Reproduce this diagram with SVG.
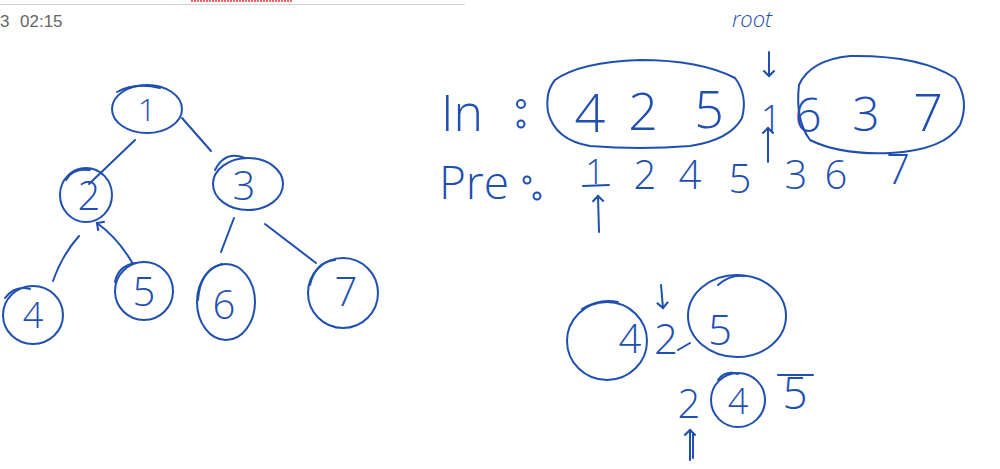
<svg xmlns="http://www.w3.org/2000/svg" width="1000" height="469" viewBox="0 0 1000 469">
<style>
.ink{fill:none;stroke:#1f4fb0;stroke-width:2;stroke-linecap:round;stroke-linejoin:round}
.d{font-family:"Open Sans","Liberation Sans","DejaVu Sans",sans-serif;font-weight:300;fill:#1f4fb0;text-anchor:middle}
.hdr{font-family:"Liberation Sans",Arial,sans-serif;fill:#666;font-size:17px}
</style>
<defs>
<marker id="ah" viewBox="0 0 10 10" refX="5" refY="5" markerWidth="7" markerHeight="7" orient="auto-start-reverse">
<path d="M1,1 L5,5 L1,9" fill="none" stroke="#1f4fb0" stroke-width="1.5"/>
</marker>
</defs>
<rect width="1000" height="469" fill="#fff"/>
<g id="header">
<line x1="0" y1="4.5" x2="465" y2="4.5" stroke="#d0d0d0" stroke-width="1"/>
<line x1="191" y1="1" x2="292" y2="1" stroke="#e33" stroke-width="1.5" stroke-dasharray="2 1"/>
<text x="0" y="27" class="hdr" font-size="12">3</text>
<text x="20" y="27" class="hdr">02:15</text>
</g>
<g id="connectors">
<path class="ink" d="M135,140 L89,184"/>
<path class="ink" d="M182,118 L211,151"/>
<path class="ink" d="M79,236 Q62,255 53,281"/>
<path class="ink" d="M133,264 Q118,238 97,223" marker-end="url(#ah)"/>
<path class="ink" d="M234,218 L221,252"/>
<path class="ink" d="M265,224 L316,263"/>
</g>
<g id="n1"><ellipse class="ink" cx="147" cy="109" rx="35" ry="24"/><path class="ink" d="M117,92 Q135,82 160,88"/><text class="d" x="147" y="121" font-size="32">1</text></g>
<g id="n2"><ellipse class="ink" cx="86" cy="195" rx="26" ry="27"/><path class="ink" d="M66,180 Q72,168 90,170"/><text class="d" x="89" y="210" font-size="40">2</text></g>
<g id="n3"><ellipse class="ink" cx="248" cy="184" rx="35" ry="26"/><path class="ink" d="M215,170 Q225,150 245,158"/><text class="d" x="244" y="200" font-size="40">3</text></g>
<g id="n4"><ellipse class="ink" cx="33" cy="315" rx="30" ry="29"/><path class="ink" d="M5,298 Q15,285 30,289"/><text class="d" x="33" y="328" font-size="36">4</text></g>
<g id="n5"><ellipse class="ink" cx="144" cy="291" rx="29" ry="29"/><path class="ink" d="M115,282 Q118,266 135,263"/><text class="d" x="144" y="306" font-size="40">5</text></g>
<g id="n6"><ellipse class="ink" cx="226" cy="302" rx="29" ry="38"/><path class="ink" d="M198,300 Q200,270 222,264"/><text class="d" x="224" y="319" font-size="40">6</text></g>
<g id="n7"><ellipse class="ink" cx="343" cy="293" rx="35" ry="35"/><path class="ink" d="M310,285 Q315,262 335,260"/><text class="d" x="346" y="306" font-size="40">7</text></g>
<g id="inorder">
<text class="d" x="462" y="131" font-size="50">In</text>
<circle class="ink" cx="521" cy="104" r="4"/><circle class="ink" cx="521" cy="124" r="3.5"/>
<path class="ink" d="M555,80 Q580,62 640,60 Q700,60 735,78 Q748,95 742,118 Q730,140 690,146 Q640,150 590,146 Q555,140 548,112 Q545,92 555,80 Z"/>
<text class="d" x="590" y="132" font-size="54">4</text>
<text class="d" x="643" y="130" font-size="52">2</text>
<text class="d" x="709" y="128" font-size="52">5</text>
<text class="d" x="771" y="131" font-size="36">1</text>
<path class="ink" d="M799,85 Q810,60 850,56 Q920,55 955,78 Q970,100 960,125 Q945,150 890,153 Q840,155 810,140 Q795,120 799,85 Z"/>
<text class="d" x="808" y="132" font-size="48">6</text>
<text class="d" x="866" y="131" font-size="48">3</text>
<text class="d" x="928" y="131" font-size="52">7</text>
<text class="d" x="752" y="27" font-size="22" font-style="italic">root</text>
<path class="ink" d="M769,52 L769,76" marker-end="url(#ah)"/>
<path class="ink" d="M768,162 L768,128" marker-end="url(#ah)"/>
</g>
<g id="preorder">
<text class="d" x="474" y="199" font-size="46">Pre</text>
<circle class="ink" cx="527" cy="180" r="3.5"/><circle class="ink" cx="537" cy="196" r="3.5"/>
<text class="d" x="595" y="184" font-size="34">1</text>
<line class="ink" x1="583" y1="186" x2="609" y2="185"/>
<path class="ink" d="M599,232 L598,196" marker-end="url(#ah)"/>
<text class="d" x="645" y="189" font-size="40">2</text>
<text class="d" x="690" y="189" font-size="40">4</text>
<text class="d" x="740" y="193" font-size="40">5</text>
<text class="d" x="796" y="189" font-size="40">3</text>
<text class="d" x="836" y="189" font-size="40">6</text>
<text class="d" x="898" y="184" font-size="42">7</text>
</g>
<g id="subtree">
<ellipse class="ink" cx="607" cy="341" rx="40" ry="39"/>
<path class="ink" d="M582,309 Q600,298 618,302"/>
<text class="d" x="630" y="353" font-size="40">4</text>
<path class="ink" d="M661,285 L663,308" marker-end="url(#ah)"/>
<text class="d" x="666" y="354" font-size="42">2</text>
<line class="ink" x1="678" y1="350" x2="690" y2="343"/>
<ellipse class="ink" cx="737" cy="316" rx="49" ry="41"/>
<path class="ink" d="M718,285 Q730,274 745,276"/>
<text class="d" x="720" y="345" font-size="42">5</text>
<text class="d" x="689" y="418" font-size="40">2</text>
<circle class="ink" cx="738" cy="400" r="27"/>
<path class="ink" d="M718,380 Q725,370 738,374"/>
<text class="d" x="738" y="414" font-size="36">4</text>
<text class="d" x="795" y="409" font-size="44">5</text>
<line class="ink" x1="778" y1="375" x2="813" y2="375"/>
<path class="ink" d="M690,460 L690,430" marker-end="url(#ah)"/>
<path class="ink" d="M693,458 L693,433"/>
</g>
</svg>
